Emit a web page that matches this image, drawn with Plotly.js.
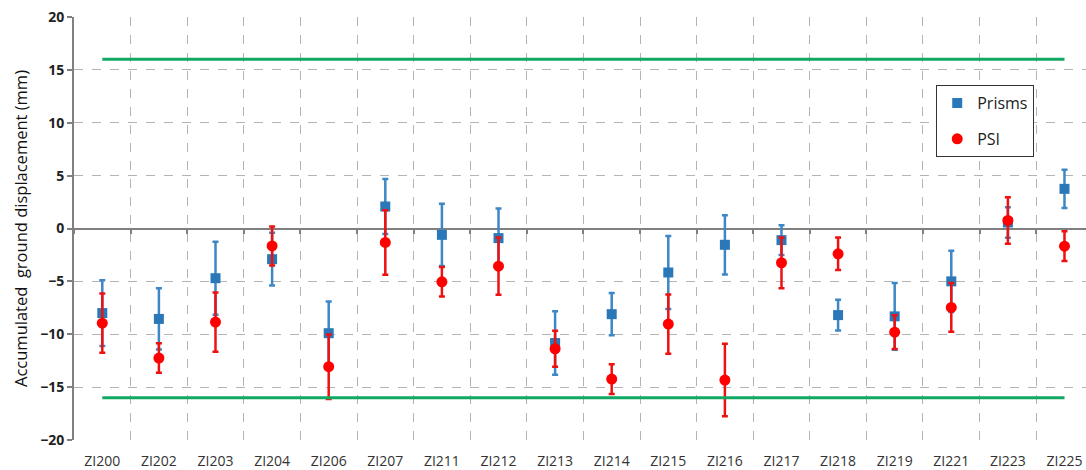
<!DOCTYPE html>
<html>
<head>
<meta charset="utf-8">
<script src="https://cdn.plot.ly/plotly-3.0.1.min.js"></script>
<style>html,body{margin:0;padding:0;background:#fff;}#chart{width:1086px;height:470px;}</style>
</head>
<body>
<div id="chart"></div>
<script>
const stations = ["ZI200","ZI202","ZI203","ZI204","ZI206","ZI207","ZI211","ZI212","ZI213","ZI214","ZI215","ZI216","ZI217","ZI218","ZI219","ZI221","ZI223","ZI225"];
const prisms    = [-8.0, -8.55, -4.7, -2.9, -9.9, 2.08, -0.6, -0.91, -10.83, -8.1, -4.16, -1.54, -1.1, -8.19, -8.31, -5.0, 0.57, 3.75];
const prismsErr = [3.1, 2.9, 3.45, 2.5, 3.0, 2.6, 2.95, 2.8, 3.0, 2.0, 3.45, 2.8, 1.4, 1.45, 3.15, 2.9, 1.45, 1.8];
const psi       = [-8.95, -12.25, -8.85, -1.65, -13.07, -1.32, -5.04, -3.56, -11.37, -14.24, -9.04, -14.33, -3.24, -2.39, -9.8, -7.46, 0.76, -1.67];
const psiErr    = [2.8, 1.4, 2.8, 1.85, 3.05, 3.05, 1.4, 2.7, 1.7, 1.4, 2.8, 3.43, 2.4, 1.53, 1.6, 2.3, 2.2, 1.4];
const limitUpper = 16;
const limitLower = -16;

const lineX = [stations[0], stations[stations.length - 1]];
const traces = [
  {x: lineX, y: [limitUpper, limitUpper], xaxis: 'x2', mode: 'lines', line: {color: '#10a862', width: 3}, showlegend: false, hoverinfo: 'skip'},
  {x: lineX, y: [limitLower, limitLower], xaxis: 'x2', mode: 'lines', line: {color: '#10a862', width: 3}, showlegend: false, hoverinfo: 'skip'},
  {x: stations, y: prisms, name: 'Prisms', mode: 'markers', legendgroup: 'a',
   marker: {symbol: 'square', size: 10, color: '#2b78b8'},
   error_y: {type: 'data', array: prismsErr, visible: true, color: '#3d87c6', thickness: 2.5, width: 3}},
  {x: stations, y: psi, name: 'PSI', mode: 'markers', legendgroup: 'b',
   marker: {symbol: 'circle', size: 11, color: '#ff0000'},
   error_y: {type: 'data', array: psiErr, visible: true, color: '#ee1111', thickness: 2.5, width: 3}}
];

const layout = {
  width: 1086, height: 470,
  margin: {l: 74, r: 0, t: 17, b: 30},
  paper_bgcolor: '#fff', plot_bgcolor: '#fff',
  font: {family: 'Open Sans, sans-serif', color: '#333'},
  showlegend: true,
  legend: {x: 0.852, y: 0.839, xanchor: 'left', yanchor: 'top', bgcolor: '#fff', bordercolor: '#333', borderwidth: 1,
           font: {size: 16, color: '#222'}, tracegroupgap: 12, traceorder: 'grouped'},
  xaxis: {
    type: 'category', categoryorder: 'array', categoryarray: stations,
    range: [-0.5, 17.38], tickson: 'boundaries',
    showgrid: true, gridcolor: '#b3b3b3', griddash: 'dash', gridwidth: 1,
    showline: false, zeroline: false, ticks: '', ticklabelstandoff: 11,
    tickfont: {size: 14, color: '#333'}
  },
  xaxis2: {
    type: 'category', categoryorder: 'array', categoryarray: stations,
    overlaying: 'x', anchor: 'free', position: 0.5, side: 'bottom',
    range: [-0.5, 17.38], tickson: 'boundaries',
    showgrid: false, zeroline: false, showline: false, showticklabels: false,
    ticks: 'outside', ticklen: 4, tickwidth: 2, tickcolor: '#808080'
  },
  yaxis: {
    range: [-20, 20], dtick: 5, tick0: 0,
    showgrid: true, gridcolor: '#b3b3b3', griddash: 'dash', gridwidth: 1,
    zeroline: true, zerolinecolor: '#808080', zerolinewidth: 2,
    showline: true, linecolor: '#808080', linewidth: 2,
    ticks: 'outside', ticklen: 5, tickcolor: '#808080', tickwidth: 2,
    tickfont: {size: 14, color: '#222', weight: 'bold'},
    title: {text: 'Accumulated&nbsp;&nbsp;ground displacement (mm)', font: {size: 16.5, color: '#111'}, standoff: 8}
  }
};

Plotly.newPlot('chart', traces, layout, {displayModeBar: false, staticPlot: true});
</script>
</body>
</html>
